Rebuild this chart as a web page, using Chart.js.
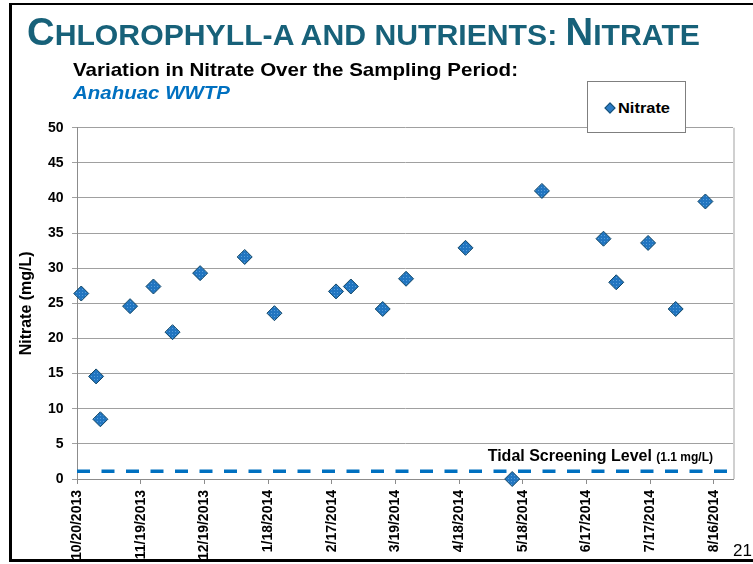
<!DOCTYPE html>
<html>
<head>
<meta charset="utf-8">
<script src="https://cdn.jsdelivr.net/npm/chart.js@4.4.0/dist/chart.umd.min.js"></script>
<style>
html,body{margin:0;padding:0;background:#fff;}
body{width:753px;height:564px;position:relative;overflow:hidden;font-family:"Liberation Sans",Arial,sans-serif;}
#frame{position:absolute;left:9px;top:3px;width:800px;height:554px;border-left:3px solid #000;border-top:2px solid #000;border-bottom:3px solid #000;}
#c{position:absolute;left:0;top:0;}
.txt{position:absolute;white-space:nowrap;line-height:1;transform-origin:0 0;}
#title{left:27px;top:12.8px;font-size:30px;font-weight:bold;color:#176179;}
#title .b{font-size:38px;}
#sub1{left:72.7px;top:61px;font-size:18.5px;font-weight:bold;color:#000;}
#sub2{left:72.7px;top:83.6px;font-size:18.5px;font-weight:bold;font-style:italic;color:#0070C0;}
#legend{position:absolute;left:587px;top:81px;width:97px;height:50px;border:1px solid #7f7f7f;background:#fff;}
#legDia{position:absolute;left:606px;top:104px;width:6px;height:6px;background:#2B7BC4;border:1px solid #164E72;transform:rotate(45deg);}
#legTxt{left:618px;top:99.6px;font-size:15px;font-weight:bold;color:#000;}
#page{left:733px;top:542px;font-size:17px;color:#000;}
</style>
</head>
<body>
<div id="frame"></div>
<canvas id="c" width="753" height="564"></canvas>
<div class="txt" id="title" data-w="673"><span class="b">C</span>HLOROPHYLL-A AND NUTRIENTS: <span class="b">N</span>ITRATE</div>
<div class="txt" id="sub1" data-w="445">Variation in Nitrate Over the Sampling Period:</div>
<div class="txt" id="sub2" data-w="157">Anahuac WWTP</div>
<div id="legend"></div>
<div id="legDia"></div>
<div class="txt" id="legTxt" data-w="52">Nitrate</div>
<div class="txt" id="page">21</div>
<script>
// ---- data ----
const sampleDates = ['10/22/2013','10/29/2013','10/31/2013','11/14/2013','11/25/2013','12/4/2013','12/17/2013',
  '1/7/2014','1/21/2014','2/19/2014','2/26/2014','3/13/2014','3/24/2014','4/21/2014','5/13/2014','5/27/2014',
  '6/25/2014','7/1/2014','7/16/2014','7/29/2014','8/12/2014'];
const nitrateValues = [26.4,14.6,8.5,24.6,27.4,20.9,29.3,31.6,23.6,26.7,27.4,24.2,28.5,32.9,0,41.0,34.2,28.0,33.6,24.2,39.5];
const tickLabels = ['10/20/2013','11/19/2013','12/19/2013','1/18/2014','2/17/2014','3/19/2014','4/18/2014',
  '5/18/2014','6/17/2014','7/17/2014','8/16/2014'];
const screeningLevel = 1.1;
const axisStartDate = '10/20/2013';
const axisEndDate = '8/25/2014';
const yTicks = [0,5,10,15,20,25,30,35,40,45,50];

function dayNum(s){const p=s.split('/');return Math.round(Date.UTC(+p[2],+p[0]-1,+p[1])/86400000);}
const xMin = dayNum(axisStartDate), xMax = dayNum(axisEndDate);
const tickDays = tickLabels.map(dayNum);

// fit text widths
document.querySelectorAll('.txt[data-w]').forEach(el=>{
  const w = el.getBoundingClientRect().width;
  el.style.transform = 'scaleX(' + (parseFloat(el.dataset.w)/w) + ')';
});

const FONT = '"Liberation Sans", Arial, sans-serif';

// dotted marker fill like the original
const pc = document.createElement('canvas'); pc.width = 3; pc.height = 3;
const pctx = pc.getContext('2d');
pctx.fillStyle = '#2175C0'; pctx.fillRect(0,0,3,3);
pctx.fillStyle = '#5A9FDA'; pctx.fillRect(1,1,1,1);
const markerFill = pctx.createPattern(pc, 'repeat');

const extras = {
  id:'extras',
  beforeDatasetsDraw(chart){
    const {ctx, chartArea:a} = chart;
    ctx.save();
    ctx.strokeStyle = '#d0d0d0'; ctx.lineWidth = 2;
    ctx.beginPath(); ctx.moveTo(a.right+1, a.top); ctx.lineTo(a.right+1, a.bottom); ctx.stroke();
    ctx.restore();
  },
  afterDatasetsDraw(chart){
    const {ctx, chartArea:a, scales:{y}} = chart;
    const base = y.getPixelForValue(screeningLevel) - 10.6;
    const right = a.right - 20;
    ctx.save();
    ctx.fillStyle = '#000'; ctx.textBaseline = 'alphabetic';
    ctx.font = 'bold 12px ' + FONT;
    const t2 = '(1.1 mg/L)';
    const w2 = ctx.measureText(t2).width;
    ctx.textAlign = 'right';
    ctx.fillText(t2, right, base);
    ctx.font = 'bold 16px ' + FONT;
    ctx.fillText('Tidal Screening Level ', right - w2, base);
    ctx.restore();
  }
};

new Chart(document.getElementById('c'), {
  type:'scatter',
  data:{datasets:[
    {label:'Nitrate', data: sampleDates.map((d,i)=>({x:dayNum(d), y:nitrateValues[i]})),
     pointStyle:'rectRot', pointRadius:7.5, pointHoverRadius:7.5,
     backgroundColor:markerFill, borderColor:'#134766', borderWidth:1, clip:false, order:0, showLine:false},
    {type:'line', label:'Tidal Screening Level', data:[{x:xMin,y:screeningLevel},{x:xMax,y:screeningLevel}],
     borderColor:'#0070C0', borderWidth:3.5, borderDash:[13,11.5], pointRadius:0, fill:false, order:1, showLine:true}
  ]},
  options:{
    responsive:false, animation:false, events:[],
    layout:{padding:{left:0, top:127.7, right:20, bottom:0}},
    plugins:{legend:{display:false}, tooltip:{enabled:false}},
    scales:{
      x:{type:'linear', min:xMin, max:xMax,
        afterFit(s){s.height = 85;},
        afterBuildTicks(s){s.ticks = tickDays.map(v=>({value:v}));},
        ticks:{autoSkip:false, maxRotation:90, minRotation:90, padding:6, color:'#000',
          font:{family:FONT, size:14, weight:'bold'},
          callback:(v)=>tickLabels[tickDays.indexOf(v)]},
        grid:{drawOnChartArea:false, drawTicks:true, tickLength:5, color:'#8c8c8c'},
        border:{color:'#8c8c8c'}
      },
      y:{min:0, max:50,
        afterFit(s){s.width = 77;},
        afterBuildTicks(s){s.ticks = yTicks.map(v=>({value:v}));},
        ticks:{padding:8.5, color:'#000', font:{family:FONT, size:14, weight:'bold'}},
        grid:{color:'#a0a0a0', tickLength:5, drawTicks:true},
        border:{color:'#8c8c8c'},
        title:{display:true, text:'Nitrate (mg/L)', color:'#000', font:{family:FONT, size:16, weight:'bold'}, padding:{top:17,bottom:0}}
      }
    }
  },
  plugins:[extras]
});
</script>
</body>
</html>
